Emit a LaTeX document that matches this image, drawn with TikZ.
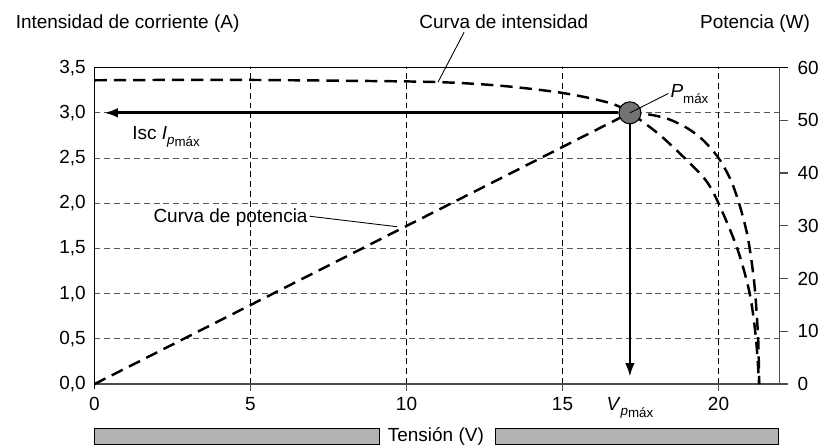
\documentclass[tikz,border=0pt]{standalone}
\usepackage{fontspec}
\setmainfont{Liberation Sans}
\usetikzlibrary{arrows.meta}

\newcommand{\sbp}[1]{\textit{#1}\raisebox{-0.45ex}{\fontsize{7.6}{8}\selectfont\textit{p}\raisebox{-0.35ex}{máx}}}

\begin{document}
\begin{tikzpicture}[x=0.624cm,y=1.808cm,
  every node/.style={font=\fontsize{10.8}{13}\selectfont, inner sep=0pt},
  grid/.style={dash pattern=on 3.4pt off 2.2pt, line width=0.5pt},
  curve/.style={dash pattern=on 7pt off 4pt, line width=1.4pt},
  lead/.style={line width=0.5pt},
  axis/.style={line width=0.7pt, black!70},
  arrow/.style={line width=1.6pt, -{Latex[length=8pt,width=5.5pt]}},
  bar/.style={draw, fill=black!30, line width=0.6pt},
  pm/.style={circle, draw, fill=black!55, minimum size=0.44cm, line width=0.6pt}]
\useasboundingbox (-3.029,-0.686) rectangle (23.22,4.248);
% grid
\foreach \y in {0.5,1.0,...,3.0}
  \draw[grid, black!65] (0,\y) -- (21.95,\y);
\foreach \x in {5,10,15,20} {
  \draw[grid] (\x,0) -- (\x,3.5);
  \draw[axis] (\x,0) -- (\x,-0.08);
  \node[anchor=base] at (\x,-0.296) {\x};
}
\node[anchor=base] at (0,-0.296) {0};
% axes
\draw[axis] (0,0) -- (22.24,0);
\draw[axis] (21.95,0) -- (21.95,3.5);
\draw[line width=0.7pt] (0,-0.05) -- (0,3.5) -- (22.24,3.5);
\foreach \w in {10,20,...,50}
  \draw[axis] (21.95,\w*3.5/60) -- (22.24,\w*3.5/60);
\foreach \y/\t in {0/{0,0},0.5/{0,5},1/{1,0},1.5/{1,5},2/{2,0},2.5/{2,5},3/{3,0},3.5/{3,5}}
  \node[anchor=east] at (-0.27,\y) {\t};
\foreach \w in {0,10,...,60}
  \node[anchor=west] at (22.52,\w*3.5/60) {\w};
% titles
\node[anchor=base] (ta) at (1.06,3.93) {Intensidad de corriente (A)};
\node[anchor=base] (tw) at (21.17,3.93) {Potencia (W)};
\node[anchor=base] (ti) at (13.12,3.93) {Curva de intensidad};
\node[anchor=base east] (tc) at (6.84,1.79) {Curva de potencia};
\node[anchor=base] (tv) at (10.94,-0.64) {Tensión (V)};
\draw[bar] (0,-0.487) rectangle (9.12,-0.664);
\draw[bar] (12.84,-0.487) rectangle (21.92,-0.664);
% curves
\draw[curve] plot[smooth] coordinates {(0,3.36) (4,3.365) (8,3.355) (11,3.34) (13,3.3)
  (15,3.22) (16.5,3.11) (17.16,3.0) (18.1,2.76) (19,2.47) (19.6,2.25) (20,2.0)
  (20.6,1.5) (21,1.0) (21.2,0.5) (21.3,0)};
\draw[curve] (0,0) -- plot[smooth] coordinates {(17.16,3.0) (17.8,2.98) (18.4,2.93)
  (19.0,2.83) (19.5,2.70) (20.0,2.5) (20.4,2.25) (20.7,1.95) (20.95,1.6)
  (21.15,1.1) (21.27,0.5) (21.3,0)};
% maximum point
\node[pm] (pmax) at (17.16,3.0) {};
\coordinate (isc) at (0.3,3.0);
\coordinate (vp) at (17.16,0.077);
\draw[arrow] (pmax) -- (isc);
\draw[arrow] (pmax) -- (vp);
\node[anchor=base west] (tp) at (18.45,3.175)
  {\textit{P}\raisebox{-0.6ex}{\fontsize{7.6}{8}\selectfont máx}};
\node[anchor=base west] (ti2) at (1.2,2.70) {Isc \sbp{I}};
\node[anchor=base] (tv2) at (17.16,-0.296) {\sbp{V}};
% leaders
\coordinate (ci) at (11.01,3.34);
\coordinate (cp) at (9.7,1.74);
\draw[lead] (pmax.center) -- ([xshift=-1pt,yshift=2pt]tp.base west);
\draw[lead] ([xshift=25.6pt,yshift=-2pt]ti.base west) -- (ci);
\draw[lead] ([xshift=1pt,yshift=3.4pt]tc.base east) -- (cp);
\end{tikzpicture}
\end{document}
